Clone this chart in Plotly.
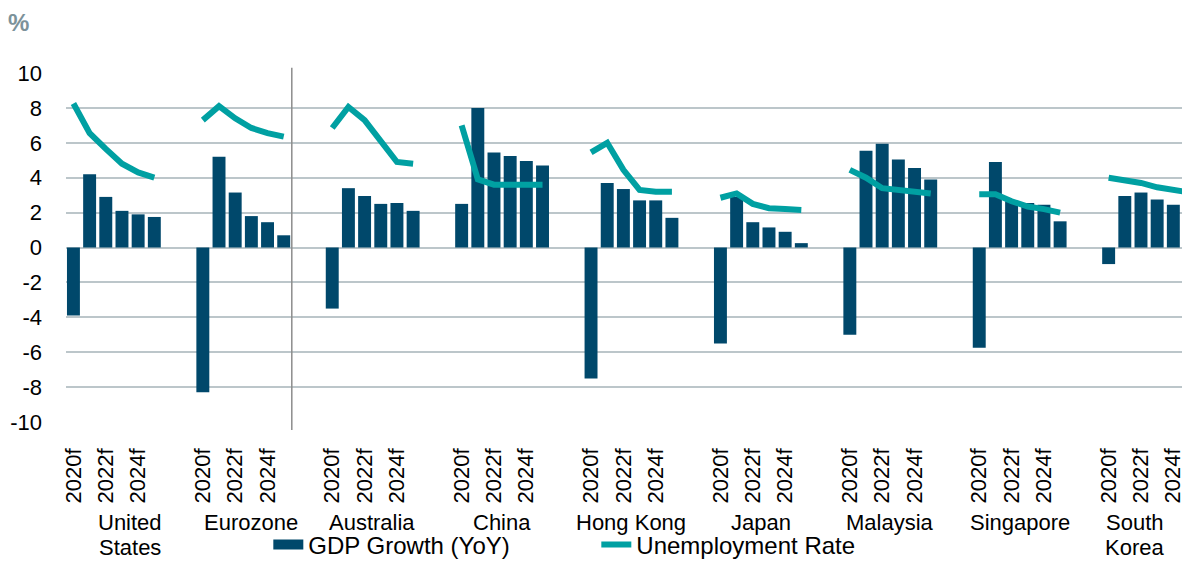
import plotly.graph_objects as go

countries = ["United States", "Eurozone", "Australia", "China", "Hong Kong",
             "Japan", "Malaysia", "Singapore", "South Korea"]
country_labels = [["United", "States"], ["Eurozone"], ["Australia"], ["China"], ["Hong Kong"],
                  ["Japan"], ["Malaysia"], ["Singapore"], ["South", "Korea"]]
years = ["2020f", "2021f", "2022f", "2023f", "2024f", "2025f"]
shown_years = ["2020f", "2022f", "2024f"]
y_ticks = [-10, -8, -6, -4, -2, 0, 2, 4, 6, 8, 10]

gdp_growth = [
    [-3.9, 4.2, 2.9, 2.1, 1.9, 1.75],   # United States
    [-8.3, 5.2, 3.15, 1.8, 1.45, 0.7],  # Eurozone
    [-3.5, 3.4, 2.95, 2.5, 2.55, 2.1],  # Australia
    [2.5, 8.0, 5.45, 5.25, 4.95, 4.7],  # China
    [-7.5, 3.7, 3.35, 2.7, 2.7, 1.7],   # Hong Kong
    [-5.5, 2.9, 1.45, 1.15, 0.9, 0.25], # Japan
    [-5.0, 5.55, 5.95, 5.05, 4.55, 3.9],# Malaysia
    [-5.75, 4.9, 2.65, 2.55, 2.45, 1.5],# Singapore
    [-0.95, 2.95, 3.15, 2.75, 2.45, 2.45],  # South Korea
]
unemployment = [
    [8.25, 6.55, 5.65, 4.8, 4.3, 4.0],
    [7.3, 8.1, 7.4, 6.85, 6.55, 6.35],
    [6.85, 8.05, 7.3, 6.1, 4.9, 4.8],
    [7.0, 3.9, 3.6, 3.6, 3.6, 3.6],
    [5.45, 6.0, 4.45, 3.3, 3.2, 3.2],
    [2.85, 3.1, 2.5, 2.25, 2.2, 2.15],
    [4.45, 4.0, 3.4, 3.3, 3.2, 3.1],
    [3.05, 3.05, 2.65, 2.35, 2.2, 2.0],
    [4.0, 3.85, 3.7, 3.45, 3.3, 3.15],
]

BAR = "#00486B"
TEAL = "#00A0A2"
GRID = "#BCC6CA"
FONT = "Liberation Sans, Arial, sans-serif"

# category slots: 6 years per country, then 2 empty slots as spacing
cat_array = []
for c in countries:
    cat_array += [f"{c}|{y}" for y in years]
    cat_array += [f"{c}|gap1", f"{c}|gap2"]

fig = go.Figure()

bar_x, bar_y = [], []
for c, vals in zip(countries, gdp_growth):
    bar_x += [f"{c}|{y}" for y in years]
    bar_y += vals

fig.add_trace(go.Bar(
    x=bar_x, y=bar_y,
    name="GDP Growth (YoY)",
    showlegend=False,
    marker=dict(color=BAR, line=dict(width=0)),
))
# legend-only entry so the key shows a wide flat bar like the original
fig.add_trace(go.Scatter(
    x=[None], y=[None], mode="lines",
    name="GDP Growth (YoY)",
    line=dict(color=BAR, width=10),
    hoverinfo="skip",
))

for i, (c, vals) in enumerate(zip(countries, unemployment)):
    fig.add_trace(go.Scatter(
        x=[f"{c}|{y}" for y in years], y=vals,
        mode="lines",
        name="Unemployment Rate",
        legendgroup="unemp",
        showlegend=(i == 0),
        line=dict(color=TEAL, width=6),
    ))

tickvals = [f"{c}|{y}" for c in countries for y in shown_years]
ticktext = [y for c in countries for y in shown_years]

# page body has an 8px margin, so the figure is 8px smaller than the window
fig.update_layout(
    width=1182, height=554,
    margin=dict(l=58, r=0, t=65, b=140, autoexpand=False),
    paper_bgcolor="white",
    plot_bgcolor="white",
    font=dict(family=FONT, size=22, color="black"),
    bargap=0.2,
    showlegend=True,
    legend=dict(
        orientation="h",
        x=0.18, xanchor="left",
        y=-0.352, yanchor="middle",
        font=dict(size=24, color="black"),
        entrywidth=283, entrywidthmode="pixels",
        bgcolor="rgba(0,0,0,0)",
    ),
)

fig.update_xaxes(
    type="category",
    categoryorder="array",
    categoryarray=cat_array,
    range=[-0.46, 69.03],
    tickvals=tickvals,
    ticktext=ticktext,
    tickangle=-90,
    tickfont=dict(size=22),
    ticklabelstandoff=21,
    showgrid=False,
    showline=False,
    zeroline=False,
    ticks="",
    automargin=False,
)
fig.update_yaxes(
    range=[-10, 10],
    tickvals=y_ticks,
    ticktext=[str(v) for v in y_ticks],
    tickfont=dict(size=22),
    showgrid=True,
    gridcolor=GRID,
    gridwidth=1.5,
    zeroline=True,
    zerolinecolor=GRID,
    zerolinewidth=1.5,
    showline=False,
    ticks="",
    ticklabelstandoff=23,
    automargin=False,
)

# separator line between Eurozone and Australia
fig.add_shape(
    type="line", xref="x", yref="paper",
    x0=13.5, x1=13.5, y0=-0.023, y1=1.015,
    line=dict(color="#8C8C8C", width=1.5),
)

# country labels under each group (one annotation per text line)
label_offsets = [3.5, 3.0, 2.45, 2.5, 2.5, 2.5, 2.5, 2.5, 1.6]
for i, (lines, off) in enumerate(zip(country_labels, label_offsets)):
    for j, line in enumerate(lines):
        fig.add_annotation(
            x=i * 8 + off, xref="x",
            y=-0.246 - j * 0.072, yref="paper", yanchor="top",
            text=line, showarrow=False,
            font=dict(size=22, color="black"),
        )

fig.add_annotation(
    x=-0.0525, xref="paper", xanchor="left",
    y=1.185, yref="paper", yanchor="top",
    text="<b>%</b>", showarrow=False,
    borderpad=0,
    font=dict(size=24, color="#7C929A"),
)

fig.write_html("out.html")
